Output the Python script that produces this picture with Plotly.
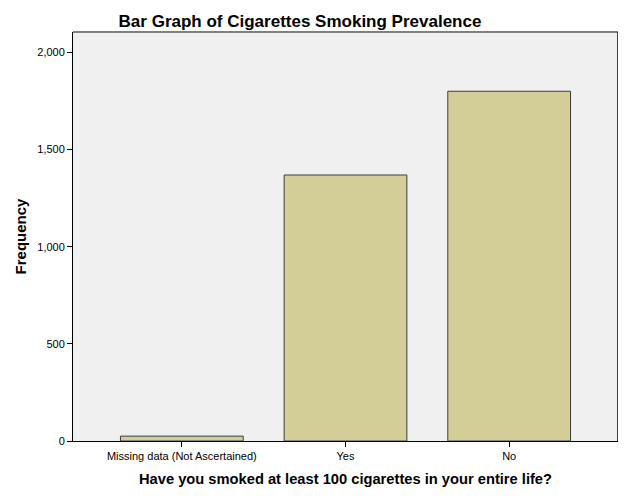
import plotly.graph_objects as go

categories = ["Missing data (Not Ascertained)", "Yes", "No"]
frequency = [25, 1369, 1800]
y_ticks = [0, 500, 1000, 1500, 2000]

FONT = "Liberation Sans, Arial, sans-serif"
W, H = 618, 493

fig = go.Figure()
fig.add_trace(go.Bar(
    x=categories, y=frequency, width=0.75,
    marker=dict(color="#D3CE97", line=dict(color="#3C3C3C", width=1)),
    hoverinfo="x+y",
))

fig.update_layout(
    width=W, height=H,
    margin=dict(l=65, r=8, t=24, b=60, autoexpand=False),
    paper_bgcolor="white", plot_bgcolor="#F0F0F0",
    showlegend=False,
    font=dict(family=FONT, color="black", size=11),
    title=dict(text="<b>Bar Graph of Cigarettes Smoking Prevalence</b>",
               x=292/W, xanchor="center", y=1-13/H, yanchor="middle",
               font=dict(size=17, family=FONT, color="black")),
    xaxis=dict(
        type="category", range=[-0.665, 2.665], automargin=False,
        showgrid=False, zeroline=False,
        showline=True, linecolor="black", linewidth=1,
        ticks="outside", ticklen=5, tickcolor="black",
        tickfont=dict(size=11, family=FONT),
        title=dict(text="<b>Have you smoked at least 100 cigarettes in your entire life?</b>",
                   font=dict(size=14.7, family=FONT), standoff=12),
    ),
    yaxis=dict(
        range=[0, 2105], tickvals=y_ticks, tickformat=",", automargin=False,
        showgrid=False, zeroline=False,
        showline=True, linecolor="black", linewidth=1,
        ticks="outside", ticklen=5, tickcolor="black",
        tickfont=dict(size=11, family=FONT),
        title=dict(text="<b>Frequency</b>", font=dict(size=15, family=FONT), standoff=7),
    ),
)

fig.add_shape(type="line", xref="paper", yref="paper", x0=0, x1=1, y0=1, y1=1,
              line=dict(color="#7F7F7F", width=2))
fig.add_shape(type="line", xref="paper", yref="paper", x0=1, x1=1, y0=0, y1=1,
              line=dict(color="#404040", width=2))

fig.write_html("out.html")
